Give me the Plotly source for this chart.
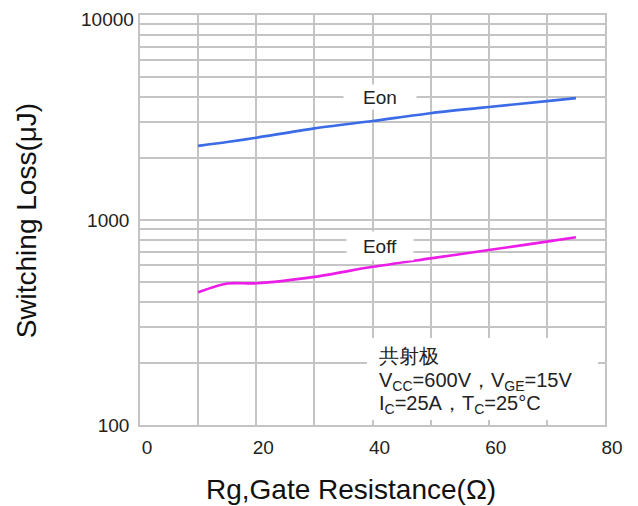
import math
import plotly.graph_objects as go

rg = [10, 15, 20, 30, 40, 50, 60, 70, 75]
eon = [2300, 2400, 2520, 2800, 3040, 3320, 3560, 3800, 3930]
eoff = [444, 490, 491, 528, 591, 650, 714, 784, 824]

x_ticks = [0, 10, 20, 30, 40, 50, 60, 70, 80]
x_labels = ["0", "", "20", "", "40", "", "60", "", "80"]
y_ticks = [100, 200, 300, 400, 500, 600, 700, 800, 900,
           1000, 2000, 3000, 4000, 5000, 6000, 7000, 8000, 9000, 10000]
y_labels = ["100"] + [""] * 8 + ["1000"] + [""] * 8 + [""]
y_top_label = "10000"

FONT = "Liberation Sans, Arial, sans-serif"
GRID = "#c4c4c4"

fig = go.Figure()
fig.add_trace(go.Scatter(x=rg, y=eon, mode="lines", line=dict(color="#3b6be6", width=2.6, shape="spline", smoothing=0.8), name="Eon", showlegend=False))
fig.add_trace(go.Scatter(x=rg, y=eoff, mode="lines", line=dict(color="#ec1de8", width=2.6, shape="spline", smoothing=0.8), name="Eoff", showlegend=False))

fig.update_xaxes(range=[0, 80], tickmode="array", tickvals=x_ticks, ticktext=x_labels,
                 showgrid=True, gridcolor=GRID, gridwidth=1.6, zeroline=False,
                 showline=True, linecolor=GRID, linewidth=1.6, mirror=True,
                 ticks="", ticklabelshift=7, ticklabelstandoff=4, automargin=False,
                 tickfont=dict(family=FONT, size=19, color="#222"))
fig.update_yaxes(type="log", range=[2 - 1e-4, 4 + 1e-4], tickmode="array", tickvals=y_ticks, ticktext=y_labels,
                 showgrid=True, gridcolor=GRID, gridwidth=1.6, zeroline=False,
                 showline=True, linecolor=GRID, linewidth=1.6, mirror=True,
                 ticks="", ticklabelstandoff=5, automargin=False,
                 tickfont=dict(family=FONT, size=19, color="#222"))

# top decade label placed just inside the figure edge
fig.add_annotation(text=y_top_label, xref="paper", yref="paper", x=-0.0105, y=1 + 7 / 410,
                   xanchor="right", yanchor="top", showarrow=False, borderpad=0,
                   font=dict(family=FONT, size=19, color="#222"))

fig.add_shape(type="rect", xref="paper", yref="paper", x0=0.488, x1=0.985, y0=0.012, y1=0.212,
              fillcolor="white", line=dict(width=0), layer="above")

notes = ["共射极",
         "V<sub>CC</sub>=600V，V<sub>GE</sub>=15V",
         "I<sub>C</sub>=25A，T<sub>C</sub>=25°C"]
note_y = [0.168, 0.107, 0.051]
for t, yy in zip(notes, note_y):
    fig.add_annotation(text=t, xref="paper", yref="paper", x=0.51, y=yy, xanchor="left", yanchor="middle",
                       showarrow=False, font=dict(family=FONT, size=20, color="#222"))

fig.add_annotation(text="Eon", xref="x", yref="y", x=41.3, y=math.log10(4000), showarrow=False, width=70, height=22,
                   bgcolor="white", font=dict(family=FONT, size=19, color="#222"))
fig.add_annotation(text="Eoff", xref="x", yref="y", x=41.3, y=math.log10(750), showarrow=False, width=64, height=26,
                   bgcolor="white", font=dict(family=FONT, size=19, color="#222"))

fig.add_annotation(text="Switching Loss(μJ)", xref="paper", yref="paper", x=-0.282, y=0.5, textangle=-90,
                   showarrow=False, font=dict(family=FONT, size=28, color="#111"))
fig.add_annotation(text="Rg,Gate Resistance(Ω)", xref="paper", yref="paper", x=0.454, y=-0.158,
                   yanchor="middle", showarrow=False, font=dict(family=FONT, size=28, color="#111"))

fig.update_layout(width=630, height=498, margin=dict(l=132, r=33, t=7, b=81, autoexpand=False),
                  plot_bgcolor="white", paper_bgcolor="white")

fig.write_html("out.html")
